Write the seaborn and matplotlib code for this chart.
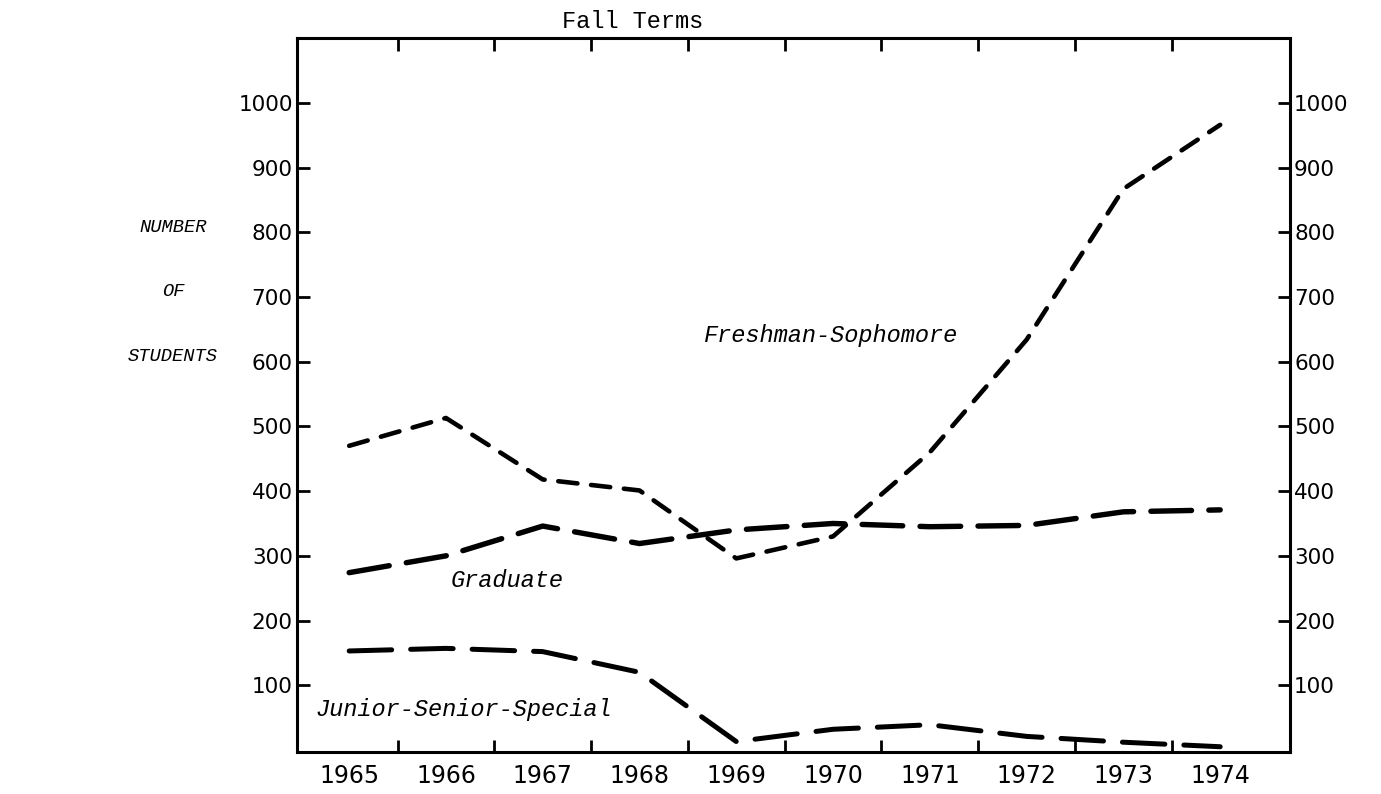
import matplotlib
matplotlib.use("Agg")
import matplotlib.pyplot as plt
import numpy as np
import pandas as pd
import seaborn as sns

# fall terms
years = [1965, 1966, 1967, 1968, 1969, 1970, 1971, 1972, 1973, 1974]

# number of students
freshman_sophomore = [470, 513, 418, 401, 296, 330, 460, 634, 867, 966]
graduate = [274, 300, 346, 319, 340, 350, 345, 347, 368, 371]
junior_senior_special = [153, 157, 152, 120, 13, 32, 39, 21, 12, 5]

y_ticks = [100, 200, 300, 400, 500, 600, 700, 800, 900, 1000]

sns.set_style("ticks")
plt.rcParams['font.family'] = ['DejaVu Sans']
plt.rcParams['text.color'] = 'black'
plt.rcParams['xtick.color'] = 'black'
plt.rcParams['ytick.color'] = 'black'

df = pd.DataFrame({
    'year': years * 3,
    'students': freshman_sophomore + graduate + junior_senior_special,
    'series': (['Freshman-Sophomore'] * len(years) + ['Graduate'] * len(years)
               + ['Junior-Senior-Special'] * len(years)),
})

fig = plt.figure(figsize=(13.81, 7.94), dpi=100)
ax = fig.add_axes([0.215, 0.053, 0.719, 0.899])

# line styles per series (dash, gap in linewidths)
styles = {
    'Freshman-Sophomore': dict(lw=3.3, dash=(4.2, 3.0)),
    'Graduate': dict(lw=3.9, dash=(7.5, 3.2)),
    'Junior-Senior-Special': dict(lw=3.6, dash=(8.5, 3.8)),
}

for name, st in styles.items():
    sub = df[df['series'] == name]
    sns.lineplot(data=sub, x='year', y='students', ax=ax, color='black',
                 linewidth=st['lw'], legend=False)
    ax.lines[-1].set_dashes(st['dash'])
    ax.lines[-1].set_dash_capstyle('round')

ax.set_xlim(1964.46, 1974.72)
ax.set_ylim(-3, 1100)

# years labelled without marks, marks sit between years
ax.set_xticks(years)
ax.set_xticklabels([str(y) for y in years])
ax.set_xticks([y + 0.5 for y in years[:-1]], minor=True)
ax.tick_params(axis='x', which='major', length=0, pad=9, labelsize=17)
ax.tick_params(axis='x', which='minor', direction='in', length=9, width=2,
               top=True, bottom=True)

ax.set_yticks(y_ticks)
ax.set_yticklabels([str(v) for v in y_ticks])
ax.tick_params(axis='y', direction='in', length=9, width=2, pad=3,
               labelsize=15.5, left=True, right=True, labelleft=True,
               labelright=True)
ax.yaxis.set_minor_locator(matplotlib.ticker.NullLocator())

for sp in ax.spines.values():
    sp.set_visible(True)
    sp.set_linewidth(2.2)
    sp.set_color('black')

ax.set_xlabel('')
ax.set_ylabel('')

mono = 'Liberation Mono'
ax.text(1969.98, 640, 'Freshman-Sophomore', family=mono, style='italic',
        fontsize=17, ha='center', va='center')
ax.text(1966.63, 262, 'Graduate', family=mono, style='italic',
        fontsize=17, ha='center', va='center')
ax.text(1964.65, 63, 'Junior-Senior-Special', family=mono, style='italic',
        fontsize=17, ha='left', va='center')

fig.text(633 / 1381, 1 - 22 / 794, 'Fall Terms', family=mono, fontsize=17,
         ha='center', va='center')
for label, py in [('NUMBER', 227), ('OF', 291), ('STUDENTS', 356)]:
    fig.text(173 / 1381, 1 - py / 794, label, family=mono, style='italic',
             fontsize=13.5, ha='center', va='center')

fig.savefig('out.png', dpi=100)
